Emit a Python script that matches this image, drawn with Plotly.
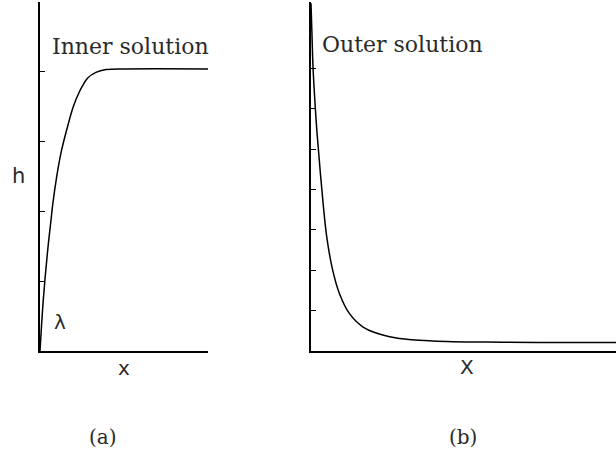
import plotly.graph_objects as go

# Inner solution h(x): rises from the origin and levels off
inner_x = [0.0, 0.0196, 0.0458, 0.0655, 0.0756, 0.0994, 0.125, 0.159, 0.198,
           0.234, 0.284, 0.333, 0.393, 0.512, 1.0]
inner_h = [0.0, 0.73, 1.44, 1.87, 2.09, 2.49, 2.83, 3.16, 3.49,
           3.70, 3.90, 3.98, 4.02, 4.03, 4.03]

# Outer solution: steep decay from the top towards a small constant
outer_x = [0.0, 0.0033, 0.0066, 0.0131, 0.0197, 0.0328, 0.0515, 0.0711, 0.0928,
           0.1256, 0.1695, 0.224, 0.290, 0.399, 0.574, 1.0]
outer_h = [8.61, 7.80, 7.03, 6.14, 5.40, 4.23, 2.83, 2.00, 1.43,
           0.93, 0.60, 0.42, 0.31, 0.25, 0.22, 0.21]

inner_ticks = [1, 2, 3, 4]
outer_ticks = [1, 2, 3, 4, 5, 6, 7]

W, H = 616, 458
curve = dict(color="black", width=1.5, shape="spline", smoothing=1.0)

fig = go.Figure()
fig.add_trace(go.Scatter(x=inner_x, y=inner_h, mode="lines", line=curve,
                         xaxis="x", yaxis="y", showlegend=False, hoverinfo="skip"))
fig.add_trace(go.Scatter(x=outer_x, y=outer_h, mode="lines", line=curve,
                         xaxis="x2", yaxis="y2", showlegend=False, hoverinfo="skip"))

ydom = [(H - 351) / H, (H - 2) / H]
axis_common = dict(showgrid=False, zeroline=False, showline=True,
                   linecolor="black", linewidth=1.5, mirror=False)
tick_style = dict(ticks="inside", ticklen=5, tickwidth=1, tickcolor="black",
                  showticklabels=False)

fig.update_layout(
    width=W, height=H,
    margin=dict(l=0, r=0, t=0, b=0),
    paper_bgcolor="white", plot_bgcolor="white",
    xaxis=dict(domain=[40 / W, 208 / W], range=[0, 1], showticklabels=False,
               ticks="", anchor="y", **axis_common),
    yaxis=dict(domain=ydom, range=[0, 349 / 70], tickvals=inner_ticks,
               anchor="x", **tick_style, **axis_common),
    xaxis2=dict(domain=[311 / W, 1.0], range=[0, 1], showticklabels=False,
                ticks="", anchor="y2", **axis_common),
    yaxis2=dict(domain=ydom, range=[0, 349 / 40.4], tickvals=outer_ticks,
                anchor="x2", **tick_style, **axis_common),
)

serif = dict(family="DejaVu Serif", size=22, color="#2a2a2a")
caption = dict(family="DejaVu Serif", size=20, color="#2a2a2a")
sans = dict(family="DejaVu Sans", size=20, color="#2a2a2a")


def label(text, px, py, font):
    fig.add_annotation(text=text, x=px / W, y=1 - py / H, xref="paper", yref="paper",
                       xanchor="center", yanchor="middle", showarrow=False, font=font)


label("Inner solution", 130, 46, serif)
label("Outer solution", 402, 45, serif)
label("h", 18, 176, dict(sans, size=21))
label("λ", 60, 322, sans)
label("x", 124, 368, sans)
label("X", 467, 367, sans)
label("(a)", 103, 437, caption)
label("(b)", 463, 437, caption)

fig.write_html("out.html")
